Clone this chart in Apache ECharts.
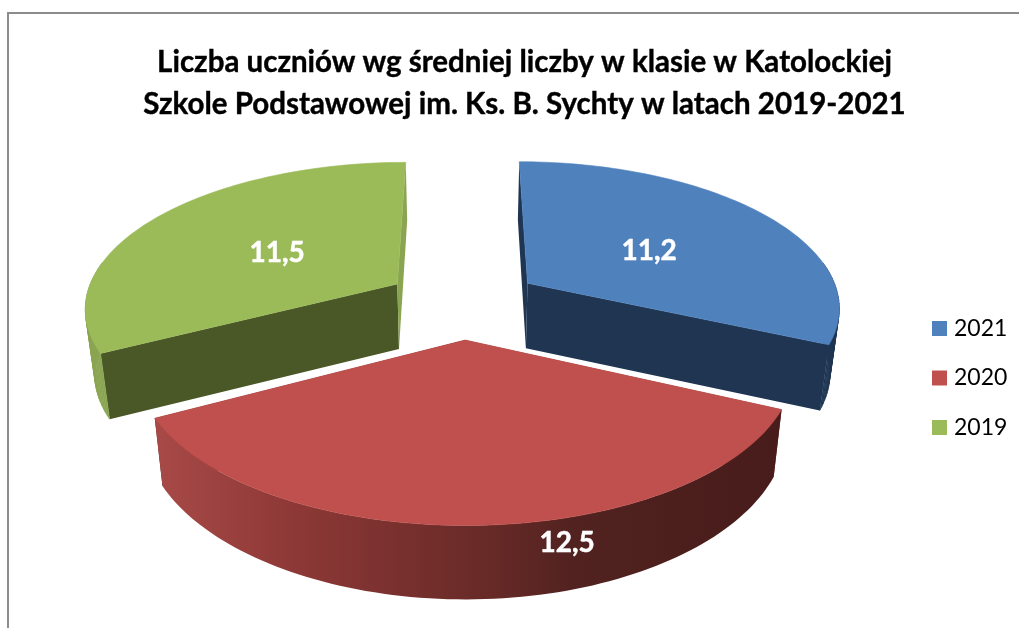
<!DOCTYPE html>
<html><head><meta charset="utf-8">
<style>html,body{margin:0;padding:0;background:#fff}#c{width:1019px;height:628px}</style>
<script src="https://cdn.jsdelivr.net/npm/echarts@6/dist/echarts.min.js"></script>
</head><body><div id="c"></div>
<script>
const categories = ['2021', '2020', '2019'];
const values = [11.2, 12.5, 11.5];
const valueLabels = ['11,2', '12,5', '11,5'];
const titleLines = ['Liczba uczniów wg średniej liczby w klasie w Katolockiej', 'Szkole Podstawowej im. Ks. B. Sychty w latach 2019-2021'];
const topColors = ['#4f81bd', '#c0504d', '#9bbb59'];
const startFaceColors = ['#1f3552', '#7a2f2d', '#4a5727'];
const endFaceColors = ['#1f3552', '#4a1d1b', '#8aa552'];
const drawOrder = [0, 2, 1];

const view = {cx: 463, cy: 302.4, R: 313, B: 145, k: 0.15, explode: 0.25, bottomScale: 0.975};
const labelPlace = [{r: 0.481, shift: 3}, {r: 1.11, shift: -12}, {r: 0.472, shift: -2}];

const total = values.reduce((a, b) => a + b, 0);
const rad = d => d * Math.PI / 180;
function sliceAngles(i) {
  let s = 0;
  for (let j = 0; j < i; j++) s += values[j];
  return [s / total * 360, (s + values[i]) / total * 360];
}
function project(U, V) {
  const w = 1 + view.k * V;
  return [view.cx + view.R * U / w, view.cy - view.B * V / w];
}
function depthAt(y) {
  if (y < 283) return 65 - 7 * (283 - y) / 121;
  const t = (y - 283) / 243;
  return 65 + 9 * t * t;
}
function lower(p) {
  return [view.cx + (p[0] - view.cx) * view.bottomScale, p[1] + depthAt(p[1])];
}
function arcPoints(a0, a1, ox, oy) {
  const pts = [], n = 90;
  for (let i = 0; i <= n; i++) {
    const t = rad(a0 + (a1 - a0) * i / n);
    pts.push(project(ox + Math.sin(t), oy + Math.cos(t)));
  }
  return pts;
}
function renderSlice(i) {
  const [a0, a1] = sliceAngles(i);
  const mid = rad((a0 + a1) / 2);
  const ox = Math.sin(mid) * view.explode, oy = Math.cos(mid) * view.explode;
  const apex = project(ox, oy);
  const arc = arcPoints(a0, a1, ox, oy);
  const first = arc[0], last = arc[arc.length - 1];
  const poly = (points, fill, stroke) => ({type: 'polygon', shape: {points},
    style: {fill, stroke: stroke || null, lineWidth: stroke ? 0.6 : 0}});
  const children = [];
  children.push(poly([apex, first, lower(first), lower(apex)], startFaceColors[i]));
  children.push(poly([apex, last, lower(last), lower(apex)], endFaceColors[i]));
  if (i === 1) {
    const wallFill = new echarts.graphic.LinearGradient(0, 0, 1, 0, [
      {offset: 0, color: '#a84a47'},
      {offset: 0.23, color: '#8c3836'},
      {offset: 0.55, color: '#652926'},
      {offset: 0.67, color: '#512220'},
      {offset: 1, color: '#471c1a'}
    ]);
    children.push(poly(arc.concat(arc.map(lower).reverse()), wallFill));
  } else {
    const c = i === 0 ? endFaceColors[0] : endFaceColors[2];
    for (let j = 0; j < arc.length - 1; j++) {
      if (Math.cos(rad(a0 + (a1 - a0) * (j + 0.5) / 90)) > 0.15) continue;
      children.push(poly([arc[j], arc[j + 1], lower(arc[j + 1]), lower(arc[j])], c, c));
    }
  }
  children.push(poly([apex].concat(arc), topColors[i], topColors[i]));
  const pl = labelPlace[i];
  const lt = mid + rad(pl.shift);
  const lp = project(ox + Math.sin(lt) * pl.r, oy + Math.cos(lt) * pl.r);
  children.push({type: 'text', style: {
    x: lp[0], y: lp[1], text: valueLabels[i], fill: '#fff', stroke: '#fff', lineWidth: 0.5,
    font: 'bold 28px Lato, "Open Sans", sans-serif', align: 'center', verticalAlign: 'middle'
  }});
  return {type: 'group', children};
}

const chart = echarts.init(document.getElementById('c'), null, {renderer: 'canvas'});
chart.setOption({
  animation: false,
  backgroundColor: '#fff',
  title: {
    text: titleLines.join('\n'), left: 519.5, top: 36.5, padding: 5, textAlign: 'center',
    textStyle: {fontFamily: 'Lato, "Open Sans", sans-serif', fontWeight: 'bold', fontSize: 29.5, lineHeight: 42,
      color: '#000', textBorderColor: '#000', textBorderWidth: 0.4}
  },
  legend: {
    data: categories, orient: 'vertical', left: 932, top: 317, padding: 0, itemWidth: 15, itemHeight: 15, itemGap: 26.5,
    icon: 'rect', selectedMode: false,
    textStyle: {fontFamily: 'Lato, sans-serif', fontSize: 23, color: '#000', padding: [0, 0, 0, 2], height: 15, lineHeight: 15}
  },
  graphic: [{type: 'rect', silent: true, shape: {x: 8, y: 13, width: 1100, height: 700},
    style: {fill: 'none', stroke: '#8c8c8c', lineWidth: 2}}],
  series: drawOrder.map(i => ({
    type: 'custom', name: categories[i], coordinateSystem: 'none',
    itemStyle: {color: topColors[i]},
    data: [values[i]],
    renderItem: () => renderSlice(i)
  }))
});
</script></body></html>
